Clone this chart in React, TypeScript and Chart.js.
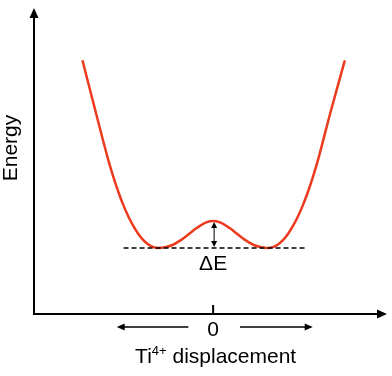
import { useEffect, useRef } from "react";
import { Chart, registerables } from "chart.js";

Chart.register(...registerables);

// Double-well potential: energy versus Ti4+ off-centre displacement (arbitrary units)
const displacement = [
  -2.48, -2.23, -1.98, -1.89, -1.79, -1.7, -1.6, -1.51, -1.42, -1.32, -1.23, -1.13, -1.04,
  -0.91, -0.77, -0.62, -0.47, -0.34, -0.25, -0.13, 0,
  0.13, 0.25, 0.34, 0.47, 0.62, 0.77, 0.91, 1.04, 1.13, 1.23, 1.32, 1.42, 1.51, 1.6, 1.7,
  1.79, 1.89, 1.98, 2.23, 2.5,
];
const energy = [
  6.96, 5.05, 3.19, 2.61, 2.03, 1.57, 1.13, 0.8, 0.52, 0.28, 0.13, 0.03, 0,
  0.03, 0.11, 0.28, 0.5, 0.7, 0.82, 0.95, 1.0,
  0.95, 0.82, 0.7, 0.5, 0.28, 0.11, 0.03, 0, 0.03, 0.13, 0.28, 0.52, 0.8, 1.13, 1.57,
  2.03, 2.61, 3.19, 5.05, 6.96,
];
// Extent of the dashed ground-state line
const groundLineRange = [-1.7, 1.75];
// Extents of the left / right direction arrows under the axis
const leftArrowRange = [-1.83, -0.47];
const rightArrowRange = [0.51, 1.89];
const originTick = "0";
const barrierLabel = "\u0394E";
const yTitle = "Energy";
const xTitleMain = "Ti";
const xTitleSup = "4+";
const xTitleRest = " displacement";

const FONT = "'Liberation Sans', Arial, Helvetica, sans-serif";
const CURVE_COLOR = "#ec3a1e";

function arrowHead(
  ctx: CanvasRenderingContext2D,
  tipX: number,
  tipY: number,
  dirX: number,
  dirY: number,
  len: number,
  half: number
) {
  const bx = tipX - dirX * len;
  const by = tipY - dirY * len;
  const px = -dirY;
  const py = dirX;
  ctx.beginPath();
  ctx.moveTo(tipX, tipY);
  ctx.lineTo(bx + px * half, by + py * half);
  ctx.lineTo(bx - px * half, by - py * half);
  ctx.closePath();
  ctx.fill();
}

const wellAnnotations = {
  id: "wellAnnotations",
  afterDatasetsDraw(chart: any) {
    const { ctx, chartArea, scales } = chart;
    const xs = scales.x;
    const ys = scales.y;
    const left = chartArea.left;
    const right = chartArea.right;
    const top = chartArea.top;
    const bottom = chartArea.bottom;

    ctx.save();
    ctx.strokeStyle = "#000";
    ctx.fillStyle = "#000";

    // axes with arrow heads
    ctx.lineWidth = 2;
    ctx.beginPath();
    ctx.moveTo(left, bottom);
    ctx.lineTo(left, top + 7);
    ctx.moveTo(left - 1, bottom);
    ctx.lineTo(right - 7, bottom);
    ctx.stroke();
    arrowHead(ctx, left, top, 0, -1, 10, 4.5);
    arrowHead(ctx, right, bottom, 1, 0, 10, 4.5);

    // tick at zero displacement
    const x0 = xs.getPixelForValue(0);
    ctx.beginPath();
    ctx.moveTo(x0, bottom - 9);
    ctx.lineTo(x0, bottom);
    ctx.stroke();

    // barrier height arrow between the minimum and the central maximum
    const eMin = Math.min(...energy);
    const eTop = energy[displacement.indexOf(0)];
    const yMin = ys.getPixelForValue(eMin);
    const yTop = ys.getPixelForValue(eTop);
    ctx.lineWidth = 1;
    ctx.beginPath();
    ctx.moveTo(x0 + 1, yTop + 4);
    ctx.lineTo(x0 + 1, yMin - 4);
    ctx.stroke();
    arrowHead(ctx, x0 + 1, yTop + 1, 0, -1, 6, 3);
    arrowHead(ctx, x0 + 1, yMin - 1, 0, 1, 6, 3);

    ctx.textAlign = "center";
    ctx.textBaseline = "alphabetic";
    ctx.font = `21px ${FONT}`;
    ctx.fillText(barrierLabel, x0, yMin + 22);

    // origin label and direction arrows
    const arrowY = bottom + 13;
    ctx.fillText(originTick, x0, bottom + 22);
    ctx.lineWidth = 1.5;
    const la = xs.getPixelForValue(leftArrowRange[0]);
    const lb = xs.getPixelForValue(leftArrowRange[1]);
    const ra = xs.getPixelForValue(rightArrowRange[0]);
    const rb = xs.getPixelForValue(rightArrowRange[1]);
    ctx.beginPath();
    ctx.moveTo(la + 6, arrowY);
    ctx.lineTo(lb, arrowY);
    ctx.moveTo(ra, arrowY);
    ctx.lineTo(rb - 6, arrowY);
    ctx.stroke();
    arrowHead(ctx, la, arrowY, -1, 0, 8, 3.5);
    arrowHead(ctx, rb, arrowY, 1, 0, 8, 3.5);

    // x title with superscript
    ctx.textAlign = "left";
    const bigFont = `21px ${FONT}`;
    const supFont = `13px ${FONT}`;
    ctx.font = bigFont;
    const wMain = ctx.measureText(xTitleMain).width;
    const wRest = ctx.measureText(xTitleRest).width;
    ctx.font = supFont;
    const wSup = ctx.measureText(xTitleSup).width;
    const total = wMain + wSup + wRest;
    let tx = x0 + 2.5 - total / 2;
    const baseY = bottom + 49;
    ctx.font = bigFont;
    ctx.fillText(xTitleMain, tx, baseY);
    tx += wMain;
    ctx.font = supFont;
    ctx.fillText(xTitleSup, tx, baseY - 8);
    tx += wSup;
    ctx.font = bigFont;
    ctx.fillText(xTitleRest, tx, baseY);

    // y title, rotated
    ctx.save();
    ctx.translate(left - 17.5, (top + bottom) / 2 - 13);
    ctx.rotate(-Math.PI / 2);
    ctx.textAlign = "center";
    ctx.font = bigFont;
    ctx.fillText(yTitle, 0, 0);
    ctx.restore();

    ctx.restore();
  },
};

export default function App() {
  const canvasRef = useRef<HTMLCanvasElement | null>(null);

  useEffect(() => {
    const canvas = canvasRef.current;
    if (!canvas) return;
    const curve = displacement.map((x, i) => ({ x, y: energy[i] }));
    const eMin = Math.min(...energy);
    const ground = groundLineRange.map((x) => ({ x, y: eMin }));

    const chart = new Chart(canvas, {
      type: "line",
      data: {
        datasets: [
          {
            label: "ground",
            data: ground,
            borderColor: "#000",
            borderWidth: 1.5,
            borderDash: [5, 3],
            pointRadius: 0,
            fill: false,
          },
          {
            label: "energy",
            data: curve,
            borderColor: CURVE_COLOR,
            borderWidth: 2.5,
            pointRadius: 0,
            cubicInterpolationMode: "monotone",
            fill: false,
          },
        ],
      },
      options: {
        responsive: false,
        animation: false,
        events: [],
        layout: { padding: { left: 34, right: 5, top: 8, bottom: 62 } },
        plugins: {
          legend: { display: false },
          tooltip: { enabled: false },
          title: { display: false },
        },
        scales: {
          x: { type: "linear", min: -3.4, max: 3.3, display: false },
          y: { type: "linear", min: -2.45, max: 8.9, display: false },
        },
      },
      plugins: [wellAnnotations],
    });
    return () => chart.destroy();
  }, []);

  return (
    <div style={{ position: "absolute", left: 0, top: 0, width: 392, height: 376, background: "#fff" }}>
      <canvas ref={canvasRef} width={392} height={376} />
    </div>
  );
}
